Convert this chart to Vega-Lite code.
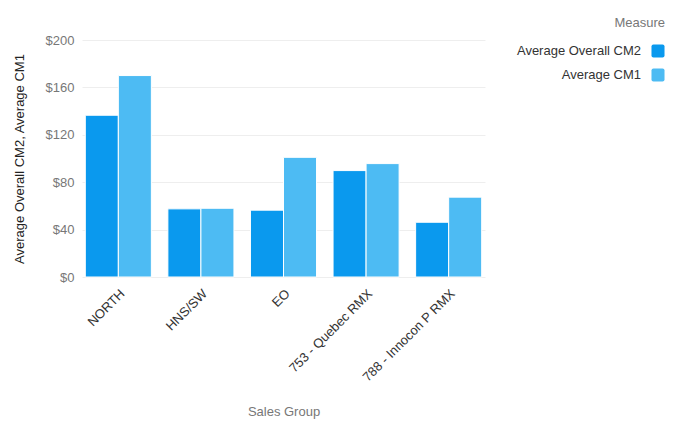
{
  "$schema": "https://vega.github.io/schema/vega-lite/v6.json",
  "autosize": {"type": "none"},
  "padding": {"left": 82, "top": 40, "right": 201, "bottom": 150},
  "width": 403,
  "height": 237,
  "config": {
    "font": "Liberation Sans",
    "view": {"stroke": null},
    "axis": {"labelFont": "Liberation Sans", "titleFont": "Liberation Sans"},
    "legend": {"labelFont": "Liberation Sans", "titleFont": "Liberation Sans"}
  },
  "data": {
    "values": [
      {"group": "NORTH", "measure": "Average Overall CM2", "value": 136.5},
      {"group": "NORTH", "measure": "Average CM1", "value": 170},
      {"group": "HNS/SW", "measure": "Average Overall CM2", "value": 57.5},
      {"group": "HNS/SW", "measure": "Average CM1", "value": 58},
      {"group": "EO", "measure": "Average Overall CM2", "value": 56.4},
      {"group": "EO", "measure": "Average CM1", "value": 101},
      {"group": "753 - Quebec RMX", "measure": "Average Overall CM2", "value": 89.8},
      {"group": "753 - Quebec RMX", "measure": "Average CM1", "value": 95.7},
      {"group": "788 - Innocon P RMX", "measure": "Average Overall CM2", "value": 46.2},
      {"group": "788 - Innocon P RMX", "measure": "Average CM1", "value": 67.4}
    ]
  },
  "mark": {"type": "bar", "stroke": "white", "strokeWidth": 1},
  "encoding": {
    "x": {
      "field": "group",
      "type": "nominal",
      "sort": null,
      "title": "Sales Group",
      "scale": {"paddingInner": 0.2, "paddingOuter": 0.04},
      "axis": {
        "labelAngle": -45,
        "labelColor": "#333333",
        "labelFontSize": 13,
        "domain": false,
        "ticks": false,
        "labelPadding": 10,
        "titleColor": "#777777",
        "titleFontSize": 13,
        "titleFontWeight": "normal",
        "titlePadding": 21
      }
    },
    "xOffset": {"field": "measure", "type": "nominal", "sort": ["Average Overall CM2", "Average CM1"]},
    "y": {
      "field": "value",
      "type": "quantitative",
      "title": "Average Overall CM2, Average CM1",
      "scale": {"domain": [0, 200]},
      "axis": {
        "values": [0, 40, 80, 120, 160, 200],
        "format": "$,.0f",
        "labelColor": "#777777",
        "labelFontSize": 13,
        "labelPadding": 8,
        "domain": false,
        "ticks": false,
        "gridColor": "#eeeeee",
        "titleColor": "#222222",
        "titleFontSize": 13,
        "titleFontWeight": "normal",
        "titlePadding": 19
      }
    },
    "color": {
      "field": "measure",
      "type": "nominal",
      "sort": ["Average Overall CM2", "Average CM1"],
      "scale": {"range": ["#0A99EE", "#4DBBF3"]},
      "legend": {
        "title": "Measure",
        "orient": "none",
        "legendX": 532,
        "legendY": -23,
        "titleColor": "#777777",
        "titleFontSize": 13,
        "titleFontWeight": "normal",
        "titleAnchor": "end",
        "titlePadding": 14,
        "labelColor": "#333333",
        "labelFontSize": 13,
        "labelAlign": "right",
        "labelOffset": -24,
        "symbolType": "M -0.7,-1 H 0.7 Q 1,-1 1,-0.7 V 0.7 Q 1,1 0.7,1 H -0.7 Q -1,1 -1,0.7 V -0.7 Q -1,-1 -0.7,-1 Z",
        "symbolSize": 170,
        "symbolStrokeWidth": 0,
        "symbolOpacity": 1,
        "rowPadding": 10
      }
    }
  }
}
